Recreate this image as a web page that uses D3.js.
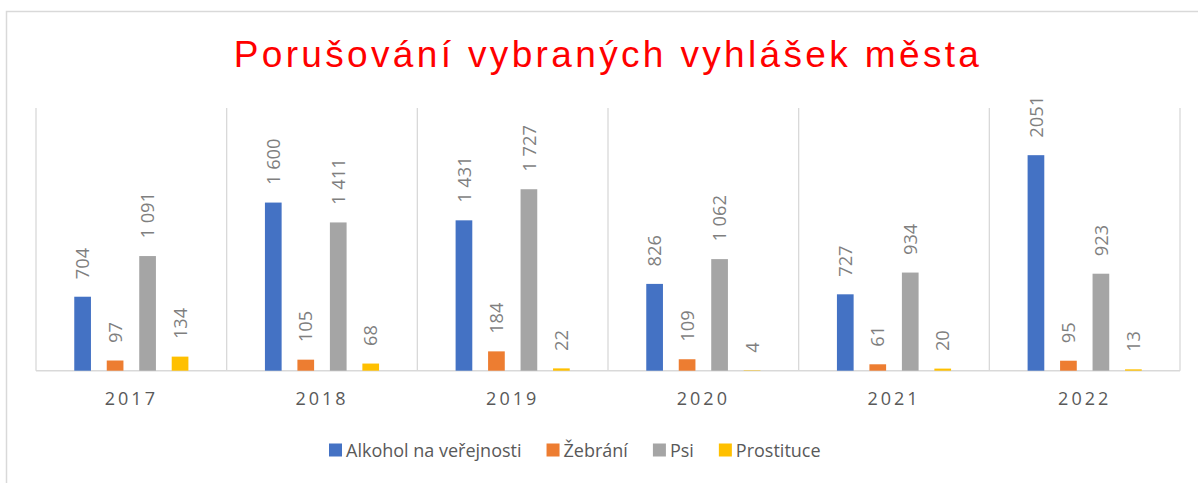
<!DOCTYPE html>
<html>
<head>
<meta charset="utf-8">
<script src="https://cdn.jsdelivr.net/npm/d3@7"></script>
<style>
  html, body { margin: 0; padding: 0; background: #fff; }
  svg { display: block; }
</style>
</head>
<body>
<div id="chart"></div>
<script>
// data
const years = ['2017', '2018', '2019', '2020', '2021', '2022'];
const seriesNames = ['Alkohol na veřejnosti', 'Žebrání', 'Psi', 'Prostituce'];
const alkohol = [704, 1600, 1431, 826, 727, 2051];
const zebrani = [97, 105, 184, 109, 61, 95];
const psi = [1091, 1411, 1727, 1062, 934, 923];
const prostituce = [134, 68, 22, 4, 20, 13];
// the 2022 label has no thousands space in the original
const alkoholLabels = ['704', '1 600', '1 431', '826', '727', '2051'];
const colors = ['#4472c4', '#ed7d31', '#a5a5a5', '#ffc000'];
const yMax = 2500;

const width = 1198,
  height = 483;

const margin = { left: 36, right: 18, top: 108, bottom: 112.3 };

const svg = d3
  .select('#chart')
  .append('svg')
  .attr('width', width)
  .attr('height', height);

// outer frame
svg
  .append('rect')
  .attr('x', 6.5)
  .attr('y', 11.5)
  .attr('width', width + 20)
  .attr('height', height + 20)
  .attr('fill', 'none')
  .attr('stroke', '#d9d9d9')
  .attr('stroke-width', 1.5);

// title
svg
  .append('text')
  .attr('x', 608)
  .attr('y', 67)
  .attr('text-anchor', 'middle')
  .style('font-family', '"Liberation Sans", Arial, sans-serif')
  .style('font-size', '37px')
  .style('letter-spacing', '3.35px')
  .attr('fill', '#ff0000')
  .text('Porušování vybraných vyhlášek města');

const series = [alkohol, zebrani, psi, prostituce];
const fmt = d3.formatLocale({ thousands: ' ', grouping: [3], decimal: ',', currency: ['', ''] }).format(',d');

const x0 = d3
  .scaleBand()
  .domain(years)
  .range([margin.left, width - margin.right])
  .padding(0);

const x1 = d3
  .scaleBand()
  .domain(d3.range(series.length))
  .range([0, x0.bandwidth()])
  .paddingInner(0.486)
  .paddingOuter(1.178);

const y = d3
  .scaleLinear()
  .domain([0, yMax])
  .range([height - margin.bottom, margin.top]);

const grid = svg.append('g');

// category separators
grid
  .selectAll('line.sep')
  .data(years.concat(['end']))
  .join('line')
  .attr('class', 'sep')
  .attr('x1', (d, i) => margin.left + i * x0.step())
  .attr('x2', (d, i) => margin.left + i * x0.step())
  .attr('y1', y(yMax))
  .attr('y2', y(0))
  .attr('stroke', '#d9d9d9')
  .attr('stroke-width', 1.3);

// baseline
grid
  .append('line')
  .attr('x1', margin.left)
  .attr('x2', width - margin.right)
  .attr('y1', y(0))
  .attr('y2', y(0))
  .attr('stroke', '#d9d9d9')
  .attr('stroke-width', 1.5);

const groups = svg
  .selectAll('g.year')
  .data(years)
  .join('g')
  .attr('class', 'year')
  .attr('transform', (d) => `translate(${x0(d)},0)`);

const cells = groups.selectAll('g.cell')
  .data((d, i) => series.map((s, k) => ({ k, value: s[i], yi: i })))
  .join('g')
  .attr('class', 'cell');

cells
  .append('rect')
  .attr('x', (d) => x1(d.k))
  .attr('width', x1.bandwidth())
  .attr('y', (d) => y(d.value))
  .attr('height', (d) => y(0) - y(d.value))
  .attr('fill', (d) => colors[d.k]);

cells
  .append('text')
  .attr('transform', (d) => `translate(${x1(d.k) + x1.bandwidth() / 2},${y(d.value) - 17.5}) rotate(-90)`)
  .attr('dy', '0.36em')
  .style('font-family', '"Open Sans", sans-serif')
  .style('font-size', '18.3px')
  .attr('fill', '#7f7f7f')
  .text((d) => (d.k === 0 ? alkoholLabels[d.yi] : fmt(d.value)));

// x axis labels
const xAxis = svg
  .append('g')
  .attr('transform', `translate(0,${y(0)})`)
  .call(d3.axisBottom(x0).tickSize(0).tickPadding(0));

xAxis.select('.domain').remove();
xAxis
  .selectAll('text')
  .attr('dy', null)
  .attr('y', 34.3)
  .style('font-family', '"Open Sans", sans-serif')
  .style('font-size', '18px')
  .style('letter-spacing', '3px')
  .attr('fill', '#595959');

// legend
const legend = svg.append('g').attr('transform', 'translate(0,450)');
let lx = 329;
seriesNames.forEach((name, k) => {
  legend
    .append('rect')
    .attr('x', lx)
    .attr('y', -6.5)
    .attr('width', 13)
    .attr('height', 13)
    .attr('fill', colors[k]);
  const t = legend
    .append('text')
    .attr('x', lx + 17)
    .attr('y', 6.5)
    .style('font-family', '"Open Sans", sans-serif')
    .style('font-size', '18px')
    .attr('fill', '#595959')
    .text(name);
  lx += 17 + t.node().getComputedTextLength() + 25;
});
</script>
</body>
</html>
